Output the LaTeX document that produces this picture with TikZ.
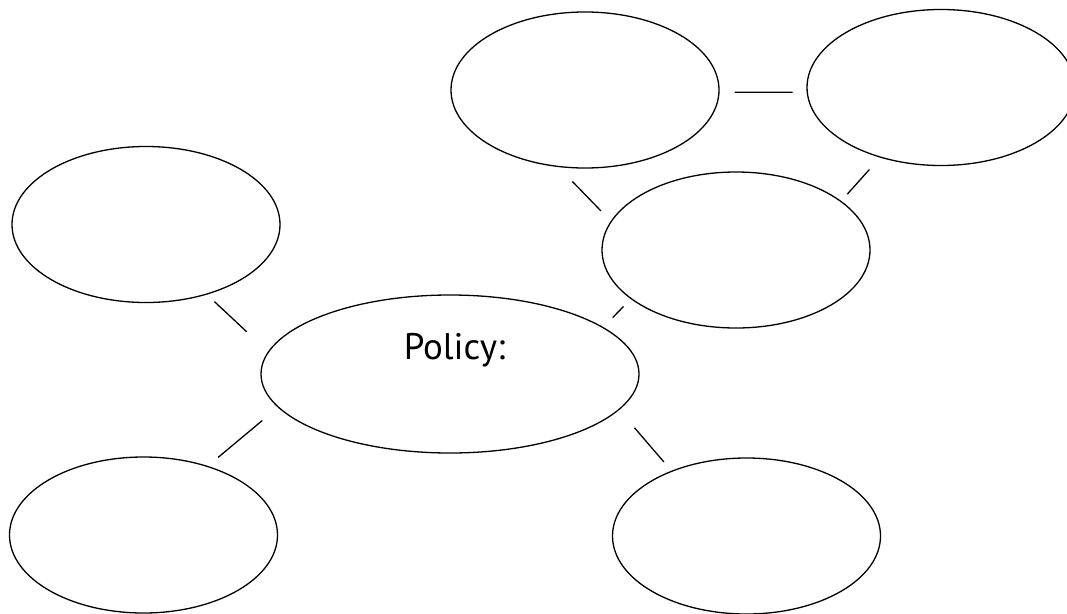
\documentclass[tikz,border=0pt]{standalone}
\usepackage{fontspec}
\setmainfont{PT Sans}
\usetikzlibrary{shapes.geometric}
\tikzset{
  bubble/.style={ellipse, draw=black, line width=1.3pt, minimum width=268pt, minimum height=156pt, inner sep=0pt},
  bigbubble/.style={bubble, minimum width=378pt, minimum height=158pt},
  link/.style={draw=black, line width=1.3pt}
}
\begin{document}
\begin{tikzpicture}[x=1pt,y=-1pt]
\useasboundingbox (0,0) rectangle (1067,613);
\node[bubble] (tm) at (585,90) {};
\node[bubble] (tr) at (941,87.5) {};
\node[bubble] (mr) at (736,250) {};
\node[bubble] (lf) at (146,224.5) {};
\node[bigbubble] (pol) at (450,374) {};
\node[bubble] (bl) at (143.5,535) {};
\node[bubble] (br) at (746.5,536) {};
\node[anchor=base, inner sep=0pt, font=\fontsize{37}{40}\selectfont] (poltext) at (454.5,359) {Policy:};
\draw[link, shorten <=15pt, shorten >=14pt] (tm.-1) -- (tr.182);
\draw[link, shorten <=20pt, shorten >=14.2pt] (tm.-109.3) -- (mr.167.6);
\draw[link, shorten <=15.9pt, shorten >=9.1pt] (tr.-131.2) -- (mr.25.4);
\draw[link, shorten <=10.3pt, shorten >=13.3pt] (mr.-155.1) -- (pol.17);
\draw[link, shorten <=10.3pt, shorten >=29.2pt] (lf.-49.7) -- (pol.173.9);
\draw[link, shorten <=20.3pt, shorten >=13.2pt] (pol.191.4) -- (bl.47.5);
\draw[link, shorten <=23.5pt, shorten >=11.5pt] (pol.-12.7) -- (br.139.6);
\end{tikzpicture}
\end{document}
